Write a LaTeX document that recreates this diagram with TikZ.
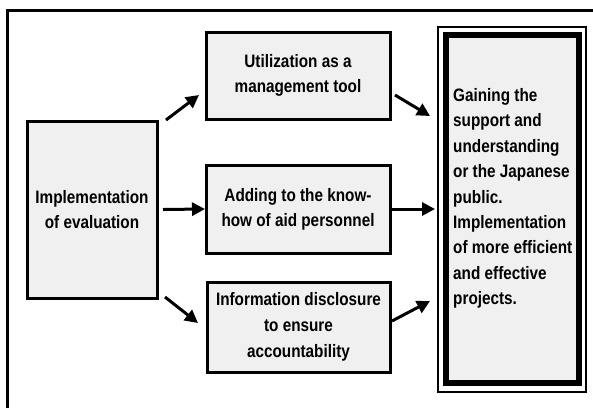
\documentclass[tikz,border=0pt]{standalone}
\usepackage{fontspec}
\setmainfont{Liberation Sans}[FakeStretch=0.85]
\usetikzlibrary{arrows.meta}

\begin{document}
\begin{tikzpicture}[x=1pt,y=-1pt,
  box/.style={draw,line width=3pt,fill=black!6,outer sep=0pt,align=center,
    font=\fontsize{18}{25}\selectfont\bfseries},
  goalbox/.style={draw,line width=6pt,fill=black!6,outer sep=0pt},
  arr/.style={line width=3pt,-{Triangle[length=13pt,width=13pt]}}]
\useasboundingbox (0,0) rectangle (593,408);
\draw [line width=3pt] (7,408) -- (7,10) -- (593,10);
\node [box,minimum width=130pt,minimum height=177pt] (impl) at (92,209.5) {Implementation\\of evaluation};
\node [box,minimum width=184pt,minimum height=87pt] (util) at (298,75.5) {Utilization as a\\management tool};
\node [box,minimum width=184pt,minimum height=88pt] (know) at (298,209) {Adding to the know-\\how of aid personnel};
\node [box,minimum width=183pt,minimum height=90pt,font=\fontsize{18}{26}\selectfont\bfseries] (info) at (298.5,327) {Information disclosure\\to ensure\\accountability};
\node [goalbox,minimum width=133pt,minimum height=348pt] (goal) at (512.5,209) {};
\draw [line width=2.5pt] ([shift={(-8,-8)}]goal.north west) rectangle ([shift={(7,9)}]goal.south east);
\node [anchor=west,align=left,inner sep=0pt,font=\fontsize{18}{25.4}\selectfont\bfseries] (goaltext) at (453,198.5)
  {Gaining the\\support and\\understanding\\or the Japanese\\public.\\Implementation\\of more efficient\\and effective\\projects.};
\draw [arr] ([shift={(9,-1)}]impl.north east) -- ([shift={(-7,-24)}]util.south west);
\draw [arr] ([shift={(6,0)}]impl.east) -- ([shift={(-1,0)}]know.west);
\draw [arr] ([shift={(8,-1)}]impl.south east) -- ([shift={(-9,-4)}]info.west);
\draw [arr] ([shift={(5,19.5)}]util.east) -- ([shift={(-16,81)}]goal.north west);
\draw [arr] ([shift={(2,0)}]know.east) -- ([shift={(-11,0)}]goal.west);
\draw [arr] ([shift={(2,-6)}]info.east) -- ([shift={(-16,92)}]goal.west);
\end{tikzpicture}
\end{document}
